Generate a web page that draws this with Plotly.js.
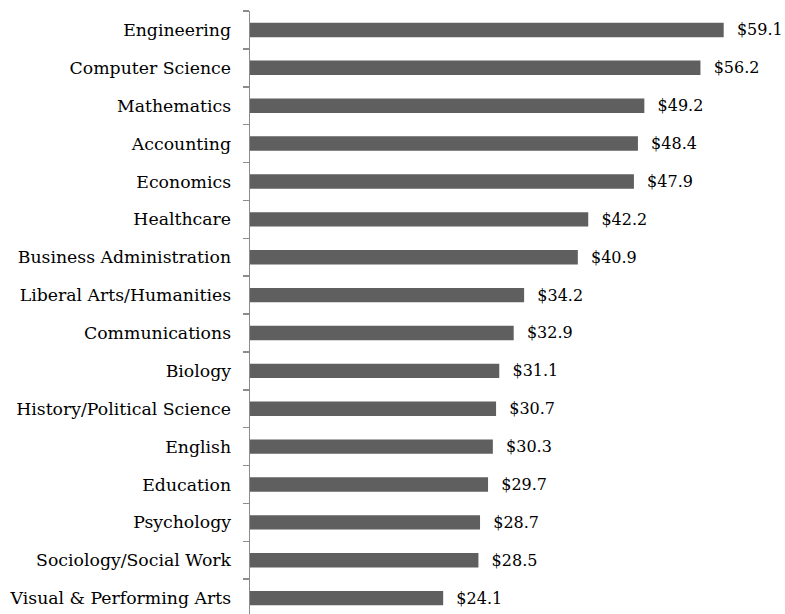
<!DOCTYPE html>
<html>
<head>
<meta charset="utf-8">
<script src="https://cdn.plot.ly/plotly-3.0.1.min.js"></script>
<style>html,body{margin:0;padding:0;background:#fff;}#chart{width:785px;height:614px;}</style>
</head>
<body>
<div id="chart"></div>
<script>
const majors = ["Engineering","Computer Science","Mathematics","Accounting","Economics","Healthcare","Business Administration","Liberal Arts/Humanities","Communications","Biology","History/Political Science","English","Education","Psychology","Sociology/Social Work","Visual & Performing Arts"];
const salaries = [59.1,56.2,49.2,48.4,47.9,42.2,40.9,34.2,32.9,31.1,30.7,30.3,29.7,28.7,28.5,24.1];

const ys = majors.slice().reverse();
const xs = salaries.slice().reverse();
const labels = xs.map(v => "\u00a0\u00a0$" + v.toFixed(1));

const trace = {
  type: "bar",
  orientation: "h",
  x: xs,
  y: ys,
  marker: {color: "#5f5f5f"},
  text: labels,
  textposition: "outside",
  constraintext: "none",
  cliponaxis: false,
  textfont: {family: "DejaVu Serif", size: 16, color: "#000"},
  hoverinfo: "none"
};

const layout = {
  width: 785, height: 614,
  margin: {l: 250, r: 6, t: 11, b: 0},
  paper_bgcolor: "#fff", plot_bgcolor: "#fff",
  showlegend: false,
  bargap: 0.62,
  font: {family: "DejaVu Serif", size: 17.3, color: "#000"},
  xaxis: {range: [0, 66], visible: false, showgrid: false, zeroline: false},
  yaxis: {
    type: "category",
    range: [-0.42, 15.5],
    showline: true, linecolor: "#8c8c8c", linewidth: 1.5,
    ticks: "outside", tickson: "boundaries", ticklen: 6, tickcolor: "#8c8c8c", tickwidth: 1.5,
    showgrid: false, zeroline: false,
    tickfont: {family: "DejaVu Serif", size: 17.3, color: "#000"},
    ticklabelstandoff: 14
  }
};

Plotly.newPlot("chart", [trace], layout, {displayModeBar: false, staticPlot: true});
</script>
</body>
</html>
